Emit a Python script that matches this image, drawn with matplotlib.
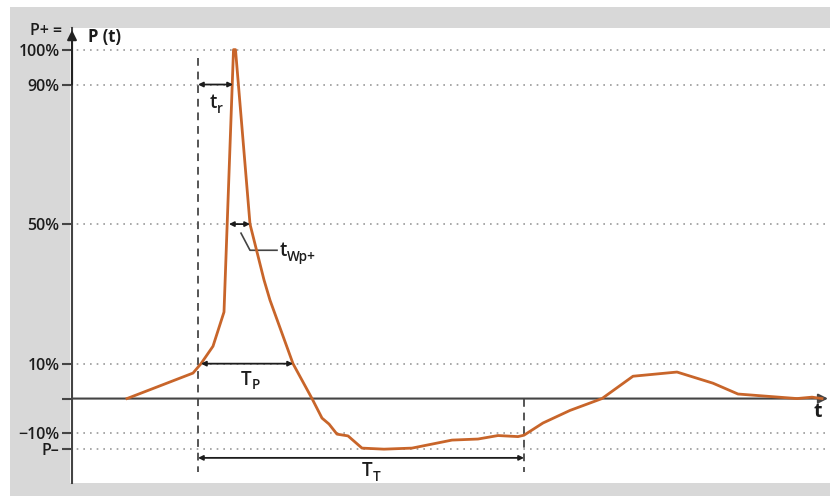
import matplotlib
matplotlib.use("Agg")
import matplotlib.pyplot as plt
from matplotlib.patches import Rectangle
from matplotlib.transforms import offset_copy

plt.rcParams['font.family'] = ['Open Sans', 'DejaVu Sans']

# ---- data (time in arbitrary units, pressure in % of P+) ----
t_curve = [55, 121, 129, 141, 152, 161.5, 163.5, 178, 192, 198, 221, 240, 250, 257,
           265, 276, 290, 312, 340, 380, 406, 426, 446, 452, 471, 498, 530, 561, 605,
           641, 666, 725, 740, 750]
p_curve = [0, 7.3, 10, 15.0, 24.8, 100, 100, 50, 34, 28.2, 10, 0, -5.6, -7.3,
           -10.2, -10.7, -14.2, -14.5, -14.2, -11.9, -11.6, -10.6, -10.9, -10.5, -7.0, -3.4, 0, 6.4, 7.6,
           4.4, 1.3, 0, 0.4, 0]

P_minus = -14.5
ytick_values = [P_minus, -10, 0, 10, 50, 90, 100]
ytick_labels = ['P\u2013', '\u221210%', '', '10%', '50%', '90%', '100%']

t_start = 126      # start of positive phase (dashed line)
t_end = 452        # end of total duration (dashed line)
t_rise_end = 161   # time of 90% crossing on rise
twp_left, twp_right = 157, 178   # 50% crossings
tp_left, tp_right = 129, 221     # 10% crossings
TT_level = -17.0

CURVE = '#c8652a'
DARK = '#1c1c1c'
W = 'semibold'

fig = plt.figure(figsize=(8.30, 4.96), dpi=100)
fig.patch.set_facecolor('white')
# grey frame
fig.patches.append(Rectangle((10/830, 0), 820/830, (496-7)/496, transform=fig.transFigure,
                             facecolor='#d8d8d8', edgecolor='none', zorder=-10))

ax = fig.add_axes([70/830, (496-483)/496, 760/830, (483-28)/496])
ax.set_zorder(1)
ax.set_facecolor('white')
ax.set_xlim(-2, 758)
ax.set_ylim(-24.2, 106.2)

for s in ['top', 'right', 'bottom']:
    ax.spines[s].set_visible(False)
ax.spines['left'].set_position(('data', 0))
ax.spines['left'].set_color('#444444')
ax.spines['left'].set_linewidth(1.5)
ax.set_xticks([])
ax.set_yticks(ytick_values)
ax.set_yticklabels(ytick_labels, fontsize=11.5, color=DARK, fontweight=W)
ax.tick_params(axis='y', length=7, width=1.5, color='#444444', pad=2)
ax.grid(axis='y', linestyle=(0, (1, 3)), color='#9a9a9a', lw=1.2)
ax.yaxis.get_gridlines()[2].set_visible(False)
ax.set_axisbelow(True)

# axis arrows
ax.annotate('', xy=(0, 105.6), xytext=(0, 90), annotation_clip=False,
            arrowprops=dict(arrowstyle='-|>', color='#222222', lw=1.5, mutation_scale=14,
                            shrinkA=0, shrinkB=0))
ax.annotate('', xy=(756, 0), xytext=(0, 0), annotation_clip=False,
            arrowprops=dict(arrowstyle='-|>', color='#444444', lw=1.5, mutation_scale=14,
                            shrinkA=0, shrinkB=0))

# dashed vertical markers
ax.plot([t_start, t_start], [97.6, -21.0], ls=(0, (4, 3)), color='#555555', lw=1.4)
ax.plot([t_end, t_end], [0, -21.0], ls=(0, (4, 3)), color='#555555', lw=1.4)

# curve
ax.plot(t_curve, p_curve, color=CURVE, lw=2.0, solid_joinstyle='round', zorder=5)

def dbl_arrow(x0, x1, y):
    ax.annotate('', xy=(x1, y), xytext=(x0, y),
                arrowprops=dict(arrowstyle='<|-|>', color=DARK, lw=1.3, mutation_scale=7,
                                shrinkA=0, shrinkB=0), zorder=6)

dbl_arrow(t_start, t_rise_end, 90)
dbl_arrow(twp_left, twp_right, 50)
dbl_arrow(tp_left, tp_right, 10)
dbl_arrow(t_start, t_end, TT_level)

renderer = fig.canvas.get_renderer()

def sublabel(x, y, main, sub, size=13.5, ha='center'):
    """main text with subscript; (x, y) is baseline position."""
    ssize = size * 0.72
    tm = ax.text(x, y, main, fontsize=size, fontweight=W, color=DARK, ha='left', va='baseline')
    ts = ax.text(x, y, sub, fontsize=ssize, fontweight=W, color=DARK, ha='left', va='baseline')
    wm = tm.get_window_extent(renderer).width * 72 / fig.dpi
    ws = ts.get_window_extent(renderer).width * 72 / fig.dpi
    shift = -(wm + ws) / 2 if ha == 'center' else 0
    tm.set_transform(offset_copy(ax.transData, fig, x=shift, y=0, units='points'))
    ts.set_transform(offset_copy(ax.transData, fig, x=shift + wm + 0.3, y=-3.2, units='points'))

# labels
sublabel(144, 83.2, 't', 'r')
ax.plot([169, 178, 205], [47.4, 42.5, 42.5], color='#444444', lw=1.2)
sublabel(207.5, 40.8, 't', 'Wp+', ha='left')
sublabel(178, 3.9, 'T', 'P')
sublabel(299, -22.3, 'T', 'T')

ax.text(-10, 105.3, 'P+ =', fontsize=11.5, color=DARK, fontweight=W, ha='right', va='center', clip_on=False)
ax.text(16, 103.5, 'P (t)', fontsize=12, fontweight='bold', color=DARK, ha='left', va='center')
ax.text(746, -3.8, 't', fontsize=14, fontweight='bold', color=DARK, ha='center', va='center')

fig.savefig('out.png', dpi=100)
